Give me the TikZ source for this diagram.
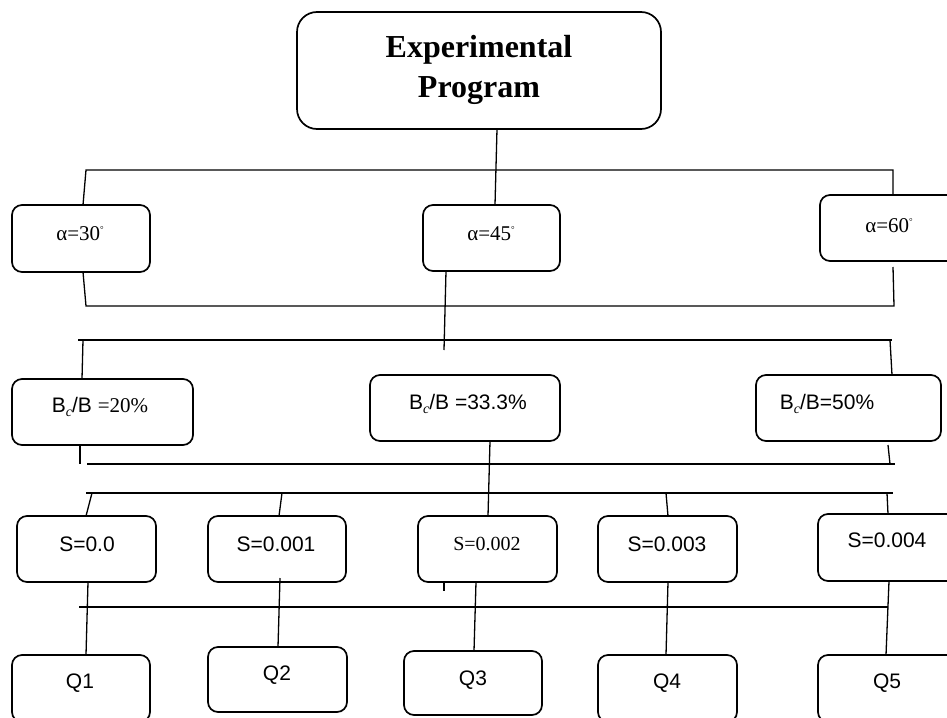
\documentclass[tikz,border=0pt]{standalone}
\usepackage{fontspec}
\setmainfont{Liberation Serif}
\newfontfamily\arialf{Liberation Sans}
\newcommand{\degr}{\raisebox{8pt}{\fontsize{9}{9}\selectfont °}}
\newcommand{\bcsub}{\raisebox{-4pt}{\rmfamily\itshape\fontsize{14}{14}\selectfont c}}
\begin{document}
\begin{tikzpicture}[x=1pt,y=-1pt,
  bx/.style={draw, line width=1.7pt, rounded corners=10pt, inner sep=0pt, outer sep=0pt, anchor=north west},
  ln/.style={line width=1.3pt},
  serif/.style={font=\fontsize{21}{24}\selectfont, inner sep=0pt, anchor=base},
  sans/.style={font=\arialf\fontsize{21}{24}\selectfont, inner sep=0pt, anchor=base}]
\useasboundingbox (0,0) rectangle (947,717);
\clip (0,0) rectangle (947,717);
% boxes
\node[bx, rounded corners=20pt, minimum width=364pt, minimum height=117pt] (prog) at (297,12) {};
\node[bx, minimum width=138pt, minimum height=67pt] (a30) at (12,205) {};
\node[bx, minimum width=137pt, minimum height=66pt] (a45) at (423,205) {};
\node[bx, minimum width=140pt, minimum height=66pt] (a60) at (820,195) {};
\node[bx, minimum width=181pt, minimum height=66pt] (b20) at (12,379) {};
\node[bx, minimum width=190pt, minimum height=66pt] (b33) at (370,375) {};
\node[bx, minimum width=185pt, minimum height=66pt] (b50) at (756,375) {};
\node[bx, minimum width=139pt, minimum height=66pt] (s0) at (17,516) {};
\node[bx, minimum width=138pt, minimum height=66pt] (s1) at (208,516) {};
\node[bx, minimum width=139pt, minimum height=66pt] (s2) at (418,516) {};
\node[bx, minimum width=139pt, minimum height=66pt] (s3) at (598,516) {};
\node[bx, minimum width=142pt, minimum height=67pt] (s4) at (818,514) {};
\node[bx, minimum width=138pt, minimum height=67pt] (q1) at (12,655) {};
\node[bx, minimum width=139pt, minimum height=65pt] (q2) at (208,647) {};
\node[bx, minimum width=138pt, minimum height=64pt] (q3) at (404,651) {};
\node[bx, minimum width=139pt, minimum height=67pt] (q4) at (598,655) {};
\node[bx, minimum width=142pt, minimum height=67pt] (q5) at (818,655) {};
% texts
\node[font=\bfseries\fontsize{32}{40}\selectfont, align=center, anchor=north, inner sep=0pt] (tprog) at (479,35) {Experimental\\Program};
\node[serif] (ta30) at (80,240) {α=30\degr};
\node[serif] (ta45) at (491,240) {α=45\degr};
\node[serif] (ta60) at (889,232) {α=60\degr};
\node[sans] (tb20) at (100,412) {B\bcsub/B {\rmfamily =20\%}};
\node[sans] (tb33) at (468,409) {B\bcsub/B =33.3\%};
\node[sans] (tb50) at (827,409) {B\bcsub/B=50\%};
\node[sans] (ts0) at (87,551) {S=0.0};
\node[sans] (ts1) at (276,551) {S=0.001};
\node[serif, font=\fontsize{20}{24}\selectfont] (ts2) at (487,550) {S=0.002};
\node[sans] (ts3) at (667,551) {S=0.003};
\node[sans] (ts4) at (887,547) {S=0.004};
\node[sans] (tq1) at (80,688) {Q1};
\node[sans] (tq2) at (277,680) {Q2};
\node[sans] (tq3) at (473,685) {Q3};
\node[sans] (tq4) at (667,688) {Q4};
\node[sans] (tq5) at (887,688) {Q5};
% free coordinates
\coordinate (a1l) at (86,170); \coordinate (a1r) at (893,170);
\coordinate (a2l) at (86,306); \coordinate (a2r) at (894,306); \coordinate (a2e) at (893,267);
\coordinate (a45e) at (444,350);
\coordinate (b1l) at (78,340); \coordinate (b1r) at (892,340);
\coordinate (b1v1) at (83,340); \coordinate (b1v2) at (890,340);
\coordinate (b2s) at (80,464);
\coordinate (b2l) at (87,464); \coordinate (b2r) at (895,464);
\coordinate (b2e1) at (888,445); \coordinate (b2e2) at (890,464);
\coordinate (s1l) at (86,493); \coordinate (s1r) at (893,493);
\coordinate (s1v0) at (92,493); \coordinate (s1v1) at (282,493);
\coordinate (s1v3) at (666,493); \coordinate (s1v4) at (887,493);
\coordinate (s2l) at (79,607); \coordinate (s2r) at (888,607);
\coordinate (stub) at (444,591);
% connectors
\draw[ln] ([xshift=200pt]prog.south west) -- ([xshift=72pt]a45.north west);
\draw[ln] ([xshift=71pt]a30.north west) -- (a1l) -- (a1r) -- ([xshift=73pt]a60.north west);
\draw[ln] ([xshift=71pt]a30.south west) -- (a2l) -- (a2r) -- (a2e);
\draw[ln] ([xshift=23pt]a45.south west) -- (a45e);
\draw[ln] (b1l) -- (b1r);
\draw[ln] (b1v1) -- ([xshift=70pt]b20.north west);
\draw[ln] (b1v2) -- ([xshift=136pt]b50.north west);
\draw[ln] ([xshift=68pt]b20.south west) -- (b2s);
\draw[ln] (b2l) -- (b2r);
\draw[ln] (b2e1) -- (b2e2);
\draw[ln] ([xshift=120pt]b33.south west) -- ([xshift=70pt]s2.north west);
\draw[ln] (s1l) -- (s1r);
\draw[ln] (s1v0) -- ([xshift=69pt]s0.north west);
\draw[ln] (s1v1) -- ([xshift=71pt]s1.north west);
\draw[ln] (s1v3) -- ([xshift=70pt]s3.north west);
\draw[ln] (s1v4) -- ([xshift=70pt]s4.north west);
\draw[ln] (s2l) -- (s2r);
\draw[ln] ([xshift=26pt]s2.south west) -- (stub);
\draw[ln] ([xshift=71pt]s0.south west) -- ([xshift=74pt]q1.north west);
\draw[ln] ([xshift=72pt,yshift=4pt]s1.south west) -- ([xshift=70pt]q2.north west);
\draw[ln] ([xshift=58pt]s2.south west) -- ([xshift=70pt]q3.north west);
\draw[ln] ([xshift=70pt]s3.south west) -- ([xshift=68pt]q4.north west);
\draw[ln] ([xshift=71pt]s4.south west) -- ([xshift=68pt]q5.north west);
\end{tikzpicture}
\end{document}
